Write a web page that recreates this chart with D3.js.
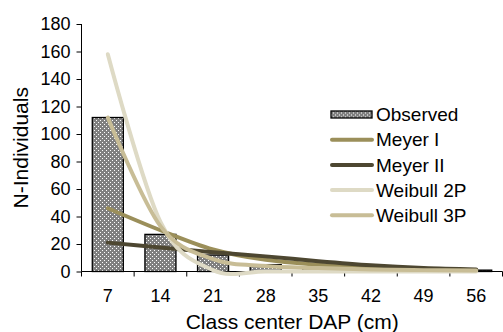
<!DOCTYPE html>
<html>
<head>
<meta charset="utf-8">
<script src="https://cdn.jsdelivr.net/npm/d3@7"></script>
<style>
  body { margin: 0; background: #fff; }
  svg text { font-family: "Liberation Sans", Arial, sans-serif; fill: #000; }
</style>
</head>
<body>
<div id="chart"></div>
<script>
// Chart values
const categories = [7, 14, 21, 28, 35, 42, 49, 56];
const observed = [112, 27, 12, 5, 3, 2, 1, 1];
const meyer1 = [46, 30, 16, 8.5, 5, 3, 2, 1];
const meyer2 = [21, 17.5, 14, 11, 7.5, 4.5, 2.5, 1.5];
const weibull2p = [158, 36, 1, 0, 0, 0, 0, 0];
const weibull3p = [112, 33, 9, 4, 2.5, 1.5, 1, 0.7];
const yTicks = [0, 20, 40, 60, 80, 100, 120, 140, 160, 180];

const seriesNames = ["Meyer I", "Meyer II", "Weibull 2P", "Weibull 3P"];
const seriesValues = [meyer1, meyer2, weibull2p, weibull3p];
const seriesColors = ["#9b8f5a", "#4d4731", "#dedac5", "#c8bd96"];

// Declare the chart dimensions and margins.
const width = 503;
const height = 332;
const marginTop = 24;
const marginRight = 0.5;
const marginBottom = 60;
const marginLeft = 81.5;

const svg = d3.select("#chart")
    .append("svg")
    .attr("width", width)
    .attr("height", height);

// dotted fill used by the bars
const defs = svg.append("defs");
const pat = defs.append("pattern")
    .attr("id", "dots")
    .attr("patternUnits", "userSpaceOnUse")
    .attr("width", 4)
    .attr("height", 4);
pat.append("rect").attr("width", 4).attr("height", 4).attr("fill", "#808080");
pat.append("rect").attr("x", 0).attr("y", 0).attr("width", 1).attr("height", 1).attr("fill", "#fff");
pat.append("rect").attr("x", 2).attr("y", 2).attr("width", 1).attr("height", 1).attr("fill", "#fff");

const x = d3.scaleBand()
    .domain(categories)
    .range([marginLeft, width - marginRight])
    .paddingInner(0.41)
    .paddingOuter(0.205);

const y = d3.scaleLinear()
    .domain([0, 180])
    .range([height - marginBottom - 0.5, marginTop]);

// Bars
svg.append("g")
    .selectAll("rect")
    .data(observed)
    .join("rect")
    .attr("x", (d, i) => x(categories[i]))
    .attr("y", d => y(d))
    .attr("width", x.bandwidth())
    .attr("height", d => y(0) - y(d))
    .attr("fill", "url(#dots)")
    .attr("stroke", "#000")
    .attr("stroke-width", 1.3);

// Axes
const yAxis = svg.append("g")
    .attr("transform", `translate(${marginLeft},0)`)
    .call(d3.axisLeft(y).tickValues(yTicks).tickSize(5).tickPadding(6));
yAxis.select(".domain").attr("d", `M0,${y(180)}V${y(0)}`);

const step = x.step();
const xAxis = svg.append("g")
    .attr("transform", `translate(0,${y(0)})`);
xAxis.append("line")
    .attr("x1", marginLeft).attr("x2", width - marginRight)
    .attr("stroke", "#000");
const bounds = categories.map(c => x(c) - step * x.paddingInner() / 2)
    .concat([x(categories[categories.length - 1]) + x.bandwidth() + step * x.paddingInner() / 2]);
xAxis.selectAll(".tk")
    .data(bounds)
    .join("line")
    .attr("class", "tk")
    .attr("x1", d => d).attr("x2", d => d)
    .attr("y1", 0).attr("y2", 5)
    .attr("stroke", "#000");
xAxis.selectAll(".lbl")
    .data(categories)
    .join("text")
    .attr("class", "lbl")
    .attr("x", d => x(d) + x.bandwidth() / 2)
    .attr("y", 30)
    .attr("text-anchor", "middle")
    .attr("font-size", 18)
    .text(d => d);

yAxis.selectAll("text").attr("font-size", 18).attr("font-family", null);
svg.selectAll(".domain, .tick line").attr("stroke", "#000");

// Fitted curves
const line = d3.line()
    .x((d, i) => x(categories[i]) + x.bandwidth() / 2)
    .y(d => y(d))
    .curve(d3.curveCardinal.tension(0));

svg.append("g")
    .selectAll("path")
    .data(seriesValues)
    .join("path")
    .attr("d", d => line(d))
    .attr("fill", "none")
    .attr("stroke", (d, i) => seriesColors[i])
    .attr("stroke-width", 4)
    .attr("stroke-linecap", "round");

// Axis titles
svg.append("text")
    .attr("x", (marginLeft + width) / 2)
    .attr("y", 329)
    .attr("text-anchor", "middle")
    .attr("font-size", 21)
    .text("Class center DAP (cm)");
svg.append("text")
    .attr("transform", `translate(28,${(y(0) + y(180)) / 2}) rotate(-90)`)
    .attr("text-anchor", "middle")
    .attr("font-size", 21)
    .text("N-Individuals");

// Legend
const legend = svg.append("g").attr("transform", "translate(331,114.5)");
legend.append("rect")
    .attr("x", 0).attr("y", -3.5)
    .attr("width", 41).attr("height", 7)
    .attr("fill", "url(#dots)")
    .attr("stroke", "#000")
    .attr("stroke-width", 1.3);
legend.append("text")
    .attr("x", 45).attr("y", 0)
    .attr("dy", "0.35em")
    .attr("font-size", 19)
    .text("Observed");
const rows = legend.selectAll(".row")
    .data(seriesNames)
    .join("g")
    .attr("class", "row")
    .attr("transform", (d, i) => `translate(0,${25.2 * (i + 1)})`);
rows.append("line")
    .attr("x1", 1).attr("x2", 41)
    .attr("stroke", (d, i) => seriesColors[i])
    .attr("stroke-width", 4)
    .attr("stroke-linecap", "round");
rows.append("text")
    .attr("x", 45).attr("y", 0)
    .attr("dy", "0.35em")
    .attr("font-size", 19)
    .text(d => d);
</script>
</body>
</html>
